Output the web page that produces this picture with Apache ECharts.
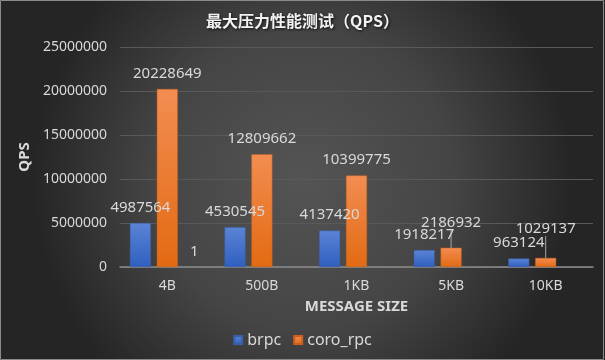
<!DOCTYPE html>
<html>
<head>
<meta charset="utf-8">
<script src="https://cdn.jsdelivr.net/npm/echarts@6/dist/echarts.min.js"></script>
<style>html,body{margin:0;padding:0;background:#333;}#c{width:605px;height:360px;}</style>
</head>
<body>
<div id="c"></div>
<script>
var categories = ['4B', '500B', '1KB', '5KB', '10KB'];
var brpc = [4987564, 4530545, 4137420, 1918217, 963124];
var coroRpc = [20228649, 12809662, 10399775, 2186932, 1029137];
var extra = [1, null, null, null, null];
var yTicks = [0, 5000000, 10000000, 15000000, 20000000, 25000000];
var movedLabels = [3, 4];

var chart = echarts.init(document.getElementById('c'));
var labelColor = '#d9d9d9';
var fontFam = '"Noto Sans", "Liberation Sans", sans-serif';
var cjkFam = '"Noto Sans CJK SC", "Noto Sans", sans-serif';

function lbl() {
  return { show: true, position: 'top', distance: 8, color: labelColor, fontSize: 15, fontFamily: fontFam };
}

var coroData = coroRpc.map(function (v, i) {
  return movedLabels.indexOf(i) >= 0
    ? { value: v, labelLine: { show: true, lineStyle: { color: '#a6a6a6', width: 1 } } }
    : { value: v, labelLine: { show: false } };
});

chart.setOption({
  backgroundColor: {
    type: 'radial', x: 0.5, y: 0.5, r: 0.75,
    colorStops: [{ offset: 0, color: '#545454' }, { offset: 0.55, color: '#454545' }, { offset: 1, color: '#252525' }]
  },
  animation: false,
  graphic: [{
    type: 'rect', shape: { x: 0.5, y: 0.5, width: 603, height: 359 },
    style: { fill: 'none', stroke: '#8a8a8a', lineWidth: 1 }, silent: true, z: 100
  }],
  title: {
    text: '最大压力性能测试（QPS）', left: 'center', top: 8,
    textStyle: { color: '#f2f2f2', fontSize: 16, fontWeight: 'bold', fontFamily: cjkFam,
      textShadowColor: 'rgba(0,0,0,0.8)', textShadowBlur: 3, textShadowOffsetX: 1, textShadowOffsetY: 1 }
  },
  grid: { left: 120, right: 12, top: 47, bottom: 93, containLabel: false },
  legend: {
    data: ['brpc', 'coro_rpc'], bottom: 7, left: 'center',
    itemWidth: 8, itemHeight: 8, itemGap: 12, icon: 'rect',
    textStyle: { color: labelColor, fontSize: 16, fontFamily: fontFam }
  },
  xAxis: {
    type: 'category', data: categories,
    name: 'MESSAGE SIZE', nameLocation: 'middle', nameGap: 32,
    nameTextStyle: { color: labelColor, fontSize: 15, fontWeight: 'bold', fontFamily: fontFam },
    axisLine: { lineStyle: { color: '#8c8c8c', width: 1.5 } },
    axisTick: { show: false },
    axisLabel: { color: labelColor, fontSize: 14, margin: 12, fontFamily: fontFam }
  },
  yAxis: {
    type: 'value', min: 0, max: 25000000, interval: 5000000,
    name: 'QPS', nameLocation: 'middle', nameGap: 88, nameRotate: 90,
    nameTextStyle: { color: labelColor, fontSize: 15, fontWeight: 'bold', fontFamily: fontFam },
    axisLine: { show: false }, axisTick: { show: false },
    splitLine: { lineStyle: { color: '#595959', width: 1 } },
    axisLabel: { color: labelColor, fontSize: 14, margin: 13, fontFamily: fontFam,
      formatter: function (v) { return yTicks.indexOf(v) >= 0 ? String(v) : ''; } }
  },
  series: [
    {
      name: 'brpc', type: 'bar', data: brpc, barWidth: 21, barGap: '28%',
      itemStyle: {
        color: { type: 'linear', x: 0, y: 0, x2: 0, y2: 1, colorStops: [{ offset: 0, color: '#5b84d6' }, { offset: 1, color: '#2f5fbf' }] },
        borderColor: '#3a5fa8', borderWidth: 0.5
      },
      label: lbl()
    },
    {
      name: 'coro_rpc', type: 'bar', data: coroData, barWidth: 21, barGap: '28%',
      itemStyle: {
        color: { type: 'linear', x: 0, y: 0, x2: 0, y2: 1, colorStops: [{ offset: 0, color: '#f28d52' }, { offset: 1, color: '#e36a12' }] },
        borderColor: '#c9601e', borderWidth: 0.5
      },
      label: lbl(),
      labelLayout: function (p) {
        if (p.dataIndex === 3) return { dy: -10 };
        if (p.dataIndex === 4) return { dy: -14 };
        return {};
      }
    },
    {
      name: 'extra', type: 'bar', data: extra, barWidth: 21, barGap: '28%',
      itemStyle: { color: '#a5a5a5' },
      label: lbl()
    }
  ]
});
</script>
</body>
</html>
